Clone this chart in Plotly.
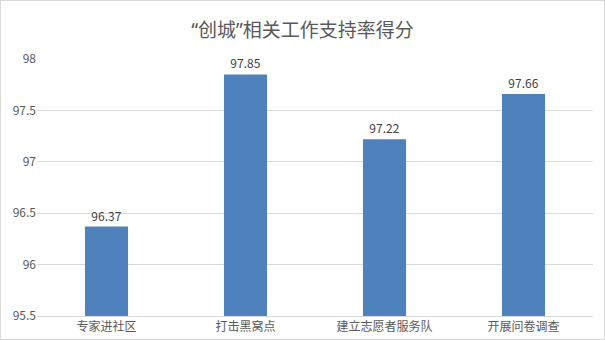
import plotly.graph_objects as go

categories = ["专家进社区", "打击黑窝点", "建立志愿者服务队", "开展问卷调查"]
values = [96.37, 97.85, 97.22, 97.66]
y_ticks = [95.5, 96, 96.5, 97, 97.5, 98]
y_ticklabels = ["95.5", "96", "96.5", "97", "97.5", "98"]
title_text = "“创城”相关工作支持率得分"

FONT = "Noto Sans CJK SC, Microsoft YaHei, sans-serif"
TFONT = "Noto Sans, Noto Sans CJK SC, sans-serif"

fig = go.Figure(go.Bar(
    x=categories, y=values,
    marker=dict(color="#4F81BD", line=dict(width=0)),
    text=[f"{v:.2f}" for v in values],
    textposition="outside",
    textfont=dict(family=FONT, size=12, color="#404040"),
    cliponaxis=False,
))

L, R, T, B = 37, 12, 59, 24
W, H = 605, 340
pw, ph = W - L - R, H - T - B

fig.update_layout(
    width=W, height=H,
    margin=dict(l=L, r=R, t=T, b=B, autoexpand=False),
    paper_bgcolor="white", plot_bgcolor="white",
    bargap=0.69,
    showlegend=False,
    title=dict(text=title_text, x=0.5, xref="container", xanchor="center",
               y=1 - 30 / H, yanchor="middle",
               font=dict(family=TFONT, size=19, color="#595959")),
    font=dict(family=FONT, size=12, color="#595959"),
    xaxis=dict(showgrid=False, showline=True, linecolor="#D9D9D9", linewidth=1,
               ticks="", automargin=False, ticklabelstandoff=0,
               tickfont=dict(family=FONT, size=12, color="#595959")),
    yaxis=dict(range=[95.5, 98], tickvals=y_ticks, ticktext=y_ticklabels,
               showgrid=True, gridcolor="#D9D9D9", gridwidth=1, automargin=False,
               zeroline=False, showline=False, ticks="",
               tickfont=dict(family=FONT, size=12, color="#595959")),
)

fig.add_shape(type="rect", xref="paper", yref="paper",
              x0=(0.5 - L) / pw, x1=(W - 0.5 - L) / pw,
              y0=-(B - 0.5) / ph, y1=1 + (T - 0.5) / ph,
              line=dict(color="#D9D9D9", width=1), fillcolor="rgba(0,0,0,0)", layer="below")

fig.write_html("out.html")
